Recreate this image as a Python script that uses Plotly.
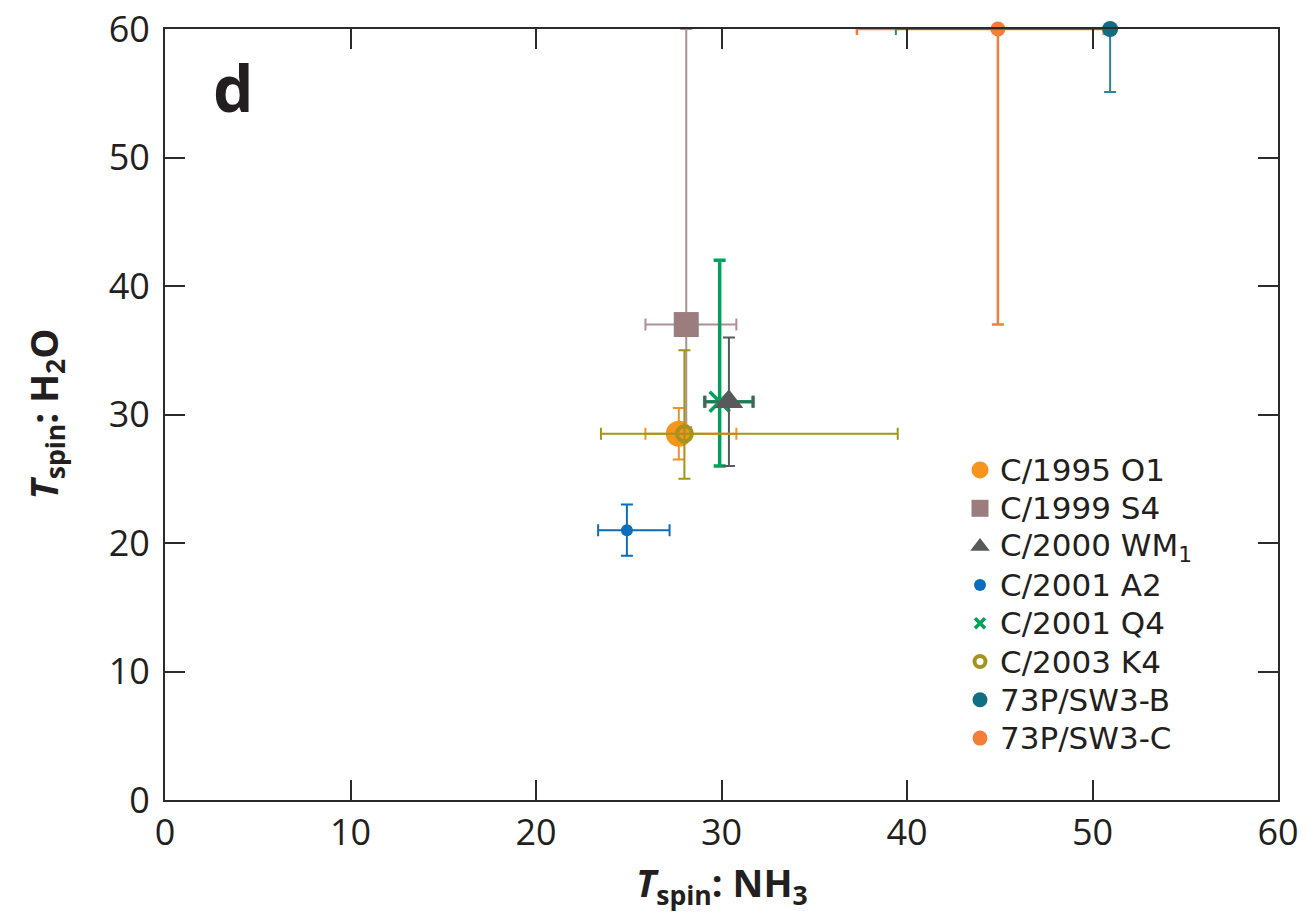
import plotly.graph_objects as go

# Spin temperatures (K): NH3 on x, H2O on y, with asymmetric uncertainties
comets = ["C/1995 O1", "C/1999 S4", "C/2000 WM<sub>1</sub>", "C/2001 A2",
          "C/2001 Q4", "C/2003 K4", "73P/SW3-B", "73P/SW3-C"]
t_nh3 = [27.7, 28.1, 30.4, 24.9, 29.9, 28.0, 50.95, 44.9]
t_nh3_plus = [3.1, 2.7, 1.3, 2.3, 1.8, 11.5, 0.0, 5.7]
t_nh3_minus = [1.8, 2.2, 1.3, 1.55, 0.8, 4.5, 11.55, 7.6]
t_h2o = [28.5, 37.0, 31.0, 21.0, 31.0, 28.5, 60.0, 60.0]
t_h2o_plus = [2.0, 23.0, 5.0, 2.0, 11.0, 6.5, 0.0, 0.0]
t_h2o_minus = [2.0, 8.0, 5.0, 2.0, 5.0, 3.5, 4.9, 23.0]

marker_colors = ["#F7941E", "#9B7D80", "#58595B", "#0A6EBD",
                 "#00A15A", "#A2941C", "#126E82", "#F47D3A"]
bar_colors = ["#F7941E", "#AE9094", "#58595B", "#0A6EBD",
              "#00A15A", "#A2941C", "#2A8595", "#F47D3A"]
symbols = ["circle", "square", "triangle-up", "circle",
           "x-thin", "circle-open", "circle", "circle"]
sizes = [26, 25, 25, 12, 20, 15, 16, 15]
key_sizes = [17, 17, 17, 12, 10, 11, 15, 15]
bar_widths = [2, 2, 2, 2, 3.5, 2, 2, 2.5]

# drawing order on the plot (legend rows keep the list order)
draw_order = [1, 7, 6, 4, 2, 3, 0, 5]

TEXT = "#231F20"
FONT = "Open Sans"
LEGEND_FONT = "DejaVu Sans"


def marker_style(i, size):
    m = dict(color=marker_colors[i], symbol=symbols[i], size=size)
    if symbols[i] == "x-thin":
        m["line"] = dict(color=marker_colors[i], width=3.5)
    if symbols[i] == "circle-open":
        m["line"] = dict(color=marker_colors[i], width=4)
    return m


fig = go.Figure()
for i in draw_order:
    fig.add_trace(go.Scatter(
        x=[t_nh3[i]], y=[t_h2o[i]], mode="markers", name=comets[i],
        marker=marker_style(i, sizes[i]), cliponaxis=False, showlegend=False,
        error_x=dict(type="data", symmetric=False, array=[t_nh3_plus[i]],
                     arrayminus=[t_nh3_minus[i]], color=bar_colors[i],
                     thickness=bar_widths[i], width=6),
        error_y=dict(type="data", symmetric=False, array=[t_h2o_plus[i]],
                     arrayminus=[t_h2o_minus[i]], color=bar_colors[i],
                     thickness=bar_widths[i], width=6),
    ))

# Legend block: keys on an overlay axis spanning [0, 1], labels as annotations
L, R, T, B = 165, 30, 29, 114
W, H = 1308, 914
pw, ph = W - L - R, H - T - B
key_x = (980 - L) / pw
label_x = (999 - L) / pw
row0_y, row_gap = 470, 38.3

annotations = []
for i, name in enumerate(comets):
    ry = (H - B - (row0_y + i * row_gap)) / ph
    fig.add_trace(go.Scatter(
        x=[key_x], y=[ry], mode="markers", xaxis="x2", yaxis="y2",
        marker=marker_style(i, key_sizes[i]), showlegend=False,
        hoverinfo="skip", cliponaxis=False,
    ))
    annotations.append(dict(
        text=name, x=label_x, y=ry, xref="paper", yref="paper",
        xanchor="left", yanchor="middle", valign="middle",
        height=36, borderpad=0, showarrow=False,
        font=dict(family=LEGEND_FONT, size=31, color=TEXT),
    ))

# panel letter and axis titles
annotations += [
    dict(text="<b>d</b>", x=(233 - L) / pw, y=(H - B - 88) / ph,
         xref="paper", yref="paper", xanchor="center", yanchor="middle",
         showarrow=False, font=dict(family=FONT, size=64, color=TEXT)),
    dict(text="<b><i>T</i><sub>spin</sub>: NH<sub>3</sub></b>",
         x=0.5, y=(H - B - 884) / ph, xref="paper", yref="paper",
         xanchor="center", yanchor="middle", showarrow=False,
         font=dict(family=FONT, size=38, color=TEXT)),
    dict(text="<b><i>T</i><sub>spin</sub>: H<sub>2</sub>O</b>",
         x=(45 - L) / pw, y=0.5, xref="paper", yref="paper", textangle=-90,
         xanchor="center", yanchor="middle", showarrow=False,
         font=dict(family=FONT, size=38, color=TEXT)),
]

axis_style = dict(
    range=[0, 60], dtick=10, showgrid=False, zeroline=False,
    showline=True, linecolor="#2b2b2b", linewidth=2, mirror="ticks",
    ticks="inside", ticklen=20, tickwidth=2, tickcolor="#2b2b2b",
    tickfont=dict(family=FONT, size=36, color=TEXT), automargin=False,
)
overlay = dict(range=[0, 1], visible=False, fixedrange=True)

fig.update_layout(
    width=W, height=H,
    margin=dict(l=L, r=R, t=T, b=B),
    plot_bgcolor="white", paper_bgcolor="white",
    showlegend=False,
    xaxis=dict(axis_style, ticklabelstandoff=0),
    yaxis=dict(axis_style, ticklabelstandoff=6),
    xaxis2=dict(overlay, overlaying="x", anchor="y2"),
    yaxis2=dict(overlay, overlaying="y", anchor="x2"),
    annotations=annotations,
)

fig.write_html("out.html")
